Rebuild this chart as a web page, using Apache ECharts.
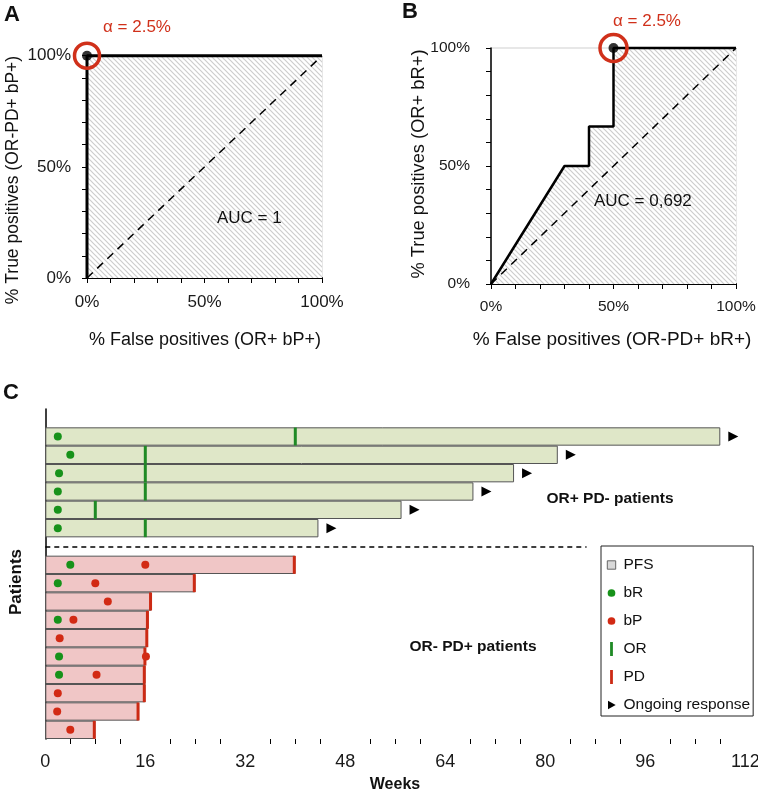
<!DOCTYPE html>
<html>
<head>
<meta charset="utf-8">
<title>ROC curves and swimmer plot</title>
<script src="https://cdn.jsdelivr.net/npm/echarts@6/dist/echarts.min.js"></script>
<style>
  html, body { margin: 0; padding: 0; background: #fff; }
  #chart { width: 758px; height: 794px; }
</style>
</head>
<body>
<div id="chart"></div>
<script>
// panel A / B : ROC curves, values in %
var rocA = [[0, 0], [0, 100], [100, 100]];
var rocB = [[0, 0], [30, 50], [40, 50], [40, 66.7], [50, 66.7], [50, 100], [100, 100]];
var chance = [[0, 0], [100, 100]];
var alphaA = [[0, 100]];
var alphaB = [[50, 100]];
var rocTickLabels = [0, 50, 100];

// panel C : swimmer plot, weeks
var orPatients = ['P1', 'P2', 'P3', 'P4', 'P5', 'P6'];
var pdPatients = ['P7', 'P8', 'P9', 'P10', 'P11', 'P12', 'P13', 'P14', 'P15', 'P16'];
var rows = ['top'].concat(orPatients, ['gap'], pdPatients);
var orPfs = [108, 82, 75, 68.5, 57, 43.7];
var orResp = [40, 16, 16, 16, 8, 16];
var orBR = [2, 4, 2.2, 2, 2, 2];
var pdPfs = [40, 24, 17, 16.5, 16.4, 16.1, 16, 16, 15, 8];
var pdBR = [4, 2, null, 2, null, 2.2, 2.2, null, null, null];
var pdBP = [16, 8, 10, 4.5, 2.3, 16.1, 8.2, 2, 1.9, 4];
var weekTicks = [0, 16, 32, 48, 64, 80, 96, 112];
var separatorEnd = 86.6;

var FONT = '"Liberation Sans", Arial, sans-serif';
var RED = '#d0301a';

function pairs(vals, names) {
    var out = [];
    vals.forEach(function (v, i) {
        if (v != null) out.push([v, names[i]]);
    });
    return out;
}

function hatch() {
    var s = 5, c = document.createElement('canvas');
    c.width = s; c.height = s;
    var g = c.getContext('2d');
    g.fillStyle = '#fff';
    g.fillRect(0, 0, s, s);
    g.strokeStyle = '#cdcdcd';
    g.lineWidth = 1.2;
    g.beginPath();
    g.moveTo(-1, -1); g.lineTo(s + 1, s + 1);
    g.moveTo(-1, s - 1); g.lineTo(1, s + 1);
    g.moveTo(s - 1, -1); g.lineTo(s + 1, 1);
    g.stroke();
    return c;
}
var hatchFill = { image: hatch(), repeat: 'repeat' };

function rocAxis(grid, isX, margin, size) {
    return {
        type: 'value', gridIndex: grid, min: 0, max: 100, interval: 10,
        position: isX ? 'bottom' : 'left',
        axisLine: { lineStyle: { color: '#000', width: isX ? 1.8 : 1.5 } },
        axisTick: { length: 5, lineStyle: { color: '#000', width: 1 } },
        splitLine: { show: false },
        axisLabel: {
            margin: margin, fontSize: size, color: '#1a1a1a', fontFamily: FONT,
            formatter: function (v) { return rocTickLabels.indexOf(v) >= 0 ? v + '%' : ''; }
        }
    };
}

function rocSeries(idx, curve, alpha, width, ring) {
    return [{
        type: 'line', xAxisIndex: idx, yAxisIndex: idx, data: curve,
        symbol: 'none', clip: false, z: 4,
        lineStyle: { color: '#000', width: width },
        areaStyle: { color: hatchFill, opacity: 1 }
    }, {
        type: 'line', xAxisIndex: idx, yAxisIndex: idx, data: chance,
        symbol: 'none', clip: false, z: 5,
        lineStyle: { color: '#000', width: 1.5, type: [8, 6] }
    }, {
        type: 'scatter', xAxisIndex: idx, yAxisIndex: idx, data: alpha,
        symbolSize: 10, clip: false, z: 6, itemStyle: { color: '#000' }
    }, {
        type: 'scatter', xAxisIndex: idx, yAxisIndex: idx, data: alpha,
        symbolSize: ring, clip: false, z: 7,
        itemStyle: { color: 'rgba(0,0,0,0)', borderColor: RED, borderWidth: 3.5, opacity: 1 }
    }];
}

function txt(x, y, text, opt) {
    opt = opt || {};
    return {
        type: 'text', x: x, y: y, rotation: opt.rot || 0, z: 100,
        style: {
            text: text, fill: opt.color || '#111',
            font: (opt.bold ? 'bold ' : '') + (opt.size || 15) + 'px ' + FONT,
            align: opt.align || 'center', textAlign: opt.align || 'center',
            verticalAlign: 'middle', textVerticalAlign: 'middle'
        }
    };
}

var chart = echarts.init(document.getElementById('chart'), null, { renderer: 'canvas' });

var swimX = {
    type: 'value', gridIndex: 2, position: 'bottom',
    min: weekTicks[0], max: weekTicks[weekTicks.length - 1],
    interval: weekTicks[1] - weekTicks[0],
    axisLine: { lineStyle: { color: '#000', width: 1.5 } },
    axisTick: { length: 6, lineStyle: { color: '#000', width: 1 } },
    minorTick: { show: true, splitNumber: 4, length: 5, lineStyle: { color: '#000', width: 1 } },
    splitLine: { show: false },
    axisLabel: { margin: 14, fontSize: 18, color: '#1a1a1a', fontFamily: FONT }
};
var swimXInner = {
    type: 'value', gridIndex: 2, position: 'bottom',
    min: swimX.min, max: swimX.max, interval: swimX.interval,
    axisLine: { show: false },
    axisTick: { inside: true, length: 6, lineStyle: { color: '#000', width: 1 } },
    axisLabel: { show: false }, splitLine: { show: false }
};

var series = [].concat(
    rocSeries(0, rocA, alphaA, 3, 25),
    rocSeries(1, rocB, alphaB, 2.5, 27),
    [{
        name: 'PFS', type: 'bar', xAxisIndex: 2, yAxisIndex: 2,
        data: pairs(orPfs, orPatients), barCategoryGap: '0%', barGap: '-100%',
        itemStyle: { color: '#dfe7c8', borderColor: '#555', borderWidth: 1 }
    }, {
        name: 'PFS', type: 'bar', xAxisIndex: 2, yAxisIndex: 2,
        data: pairs(pdPfs, pdPatients), barCategoryGap: '0%', barGap: '-100%',
        itemStyle: { color: '#f0c6c6', borderColor: '#555', borderWidth: 1 }
    }, {
        name: 'bR', type: 'scatter', xAxisIndex: 2, yAxisIndex: 2, z: 5,
        data: pairs(orBR, orPatients).concat(pairs(pdBR, pdPatients)),
        symbolSize: 8, itemStyle: { color: '#17921a', opacity: 1 }
    }, {
        name: 'bP', type: 'scatter', xAxisIndex: 2, yAxisIndex: 2, z: 5,
        data: pairs(pdBP, pdPatients),
        symbolSize: 8, itemStyle: { color: '#d22a14', opacity: 1 }
    }, {
        name: 'OR', type: 'scatter', xAxisIndex: 2, yAxisIndex: 2, z: 4,
        data: pairs(orResp, orPatients),
        symbol: 'rect', symbolSize: [3, 18], itemStyle: { color: '#1f8a25', opacity: 1 }
    }, {
        name: 'PD', type: 'scatter', xAxisIndex: 2, yAxisIndex: 2, z: 4,
        data: pairs(pdPfs, pdPatients),
        symbol: 'rect', symbolSize: [3, 18], symbolOffset: [-1, 0], itemStyle: { color: '#cc2a14', opacity: 1 }
    }, {
        name: 'Ongoing response', type: 'scatter', xAxisIndex: 2, yAxisIndex: 2, z: 4,
        data: pairs(orPfs, orPatients),
        symbol: 'path://M0,0L10,6L0,12Z', symbolSize: [10, 10], symbolOffset: [13, 0],
        itemStyle: { color: '#000', opacity: 1 },
        markLine: {
            silent: true, symbol: 'none', label: { show: false },
            lineStyle: { color: '#000', width: 1.5, type: [5, 4] },
            data: [[{ coord: [0, 'gap'] }, { coord: [separatorEnd, 'gap'] }]]
        }
    }]
);

chart.setOption({
    animation: false,
    backgroundColor: '#fff',
    textStyle: { fontFamily: FONT },
    grid: [
        { left: 87, top: 55.7, width: 235, height: 222.3, show: true, borderColor: '#cfcfcf', borderWidth: 1, outerBoundsMode: 'none' },
        { left: 491, top: 48, width: 245, height: 236, show: true, borderColor: '#cfcfcf', borderWidth: 1, outerBoundsMode: 'none' },
        { left: 45.3, top: 409, width: 700, height: 330, outerBoundsMode: 'none' }
    ],
    xAxis: [rocAxis(0, true, 16, 17), rocAxis(1, true, 15, 15.5), swimX, swimXInner],
    yAxis: [rocAxis(0, false, 16, 17), rocAxis(1, false, 21, 15.5), {
        type: 'category', gridIndex: 2, data: rows, inverse: true,
        axisLine: { lineStyle: { color: '#000', width: 1.5 } },
        axisTick: { show: false }, axisLabel: { show: false }, splitLine: { show: false }
    }],
    legend: {
        orient: 'vertical', left: 601, top: 546, selectedMode: false,
        backgroundColor: '#fff', borderColor: '#222', borderWidth: 1,
        padding: [11, 3, 3, 3], itemGap: 12, itemWidth: 14, itemHeight: 14,
        textStyle: { fontSize: 15.5, color: '#111', fontFamily: FONT },
        data: [
            { name: 'PFS', icon: 'path://M0,0M20,20M4,4h12v12h-12z', itemStyle: { color: '#d9d9d9', borderColor: '#666', borderWidth: 1 } },
            { name: 'bR', icon: 'path://M0,0M20,20M4.5,10a5.5,5.5 0 1,0 11,0a5.5,5.5 0 1,0 -11,0z' },
            { name: 'bP', icon: 'path://M0,0M20,20M4.5,10a5.5,5.5 0 1,0 11,0a5.5,5.5 0 1,0 -11,0z' },
            { name: 'OR', icon: 'path://M0,0M20,20M8,0h4v20h-4z' },
            { name: 'PD', icon: 'path://M0,0M20,20M8,0h4v20h-4z' },
            { name: 'Ongoing response', icon: 'path://M0,0M20,20M5,4L16,10L5,16Z' }
        ]
    },
    graphic: [
        txt(4, 15, 'A', { bold: true, size: 22, align: 'left' }),
        txt(402, 12, 'B', { bold: true, size: 22, align: 'left' }),
        txt(3, 393, 'C', { bold: true, size: 22, align: 'left' }),
        txt(103, 27, 'α = 2.5%', { color: RED, size: 17, align: 'left' }),
        txt(613, 21, 'α = 2.5%', { color: RED, size: 17, align: 'left' }),
        txt(217, 218, 'AUC = 1', { size: 17, align: 'left' }),
        txt(594, 201, 'AUC = 0,692', { size: 17, align: 'left' }),
        txt(13, 180, '% True positives (OR-PD+ bP+)', { rot: Math.PI / 2, size: 17.5 }),
        txt(205, 340, '% False positives (OR+ bP+)', { size: 18 }),
        txt(419, 164, '% True positives (OR+ bR+)', { rot: Math.PI / 2, size: 18.3 }),
        txt(612, 340, '% False positives (OR-PD+ bR+)', { size: 19 }),
        txt(16, 582, 'Patients', { bold: true, size: 17, rot: Math.PI / 2 }),
        txt(395, 785, 'Weeks', { bold: true, size: 16 }),
        txt(610, 499, 'OR+ PD- patients', { bold: true, size: 15.5 }),
        txt(473, 647, 'OR- PD+ patients', { bold: true, size: 15.5 })
    ],
    series: series
});
</script>
</body>
</html>
